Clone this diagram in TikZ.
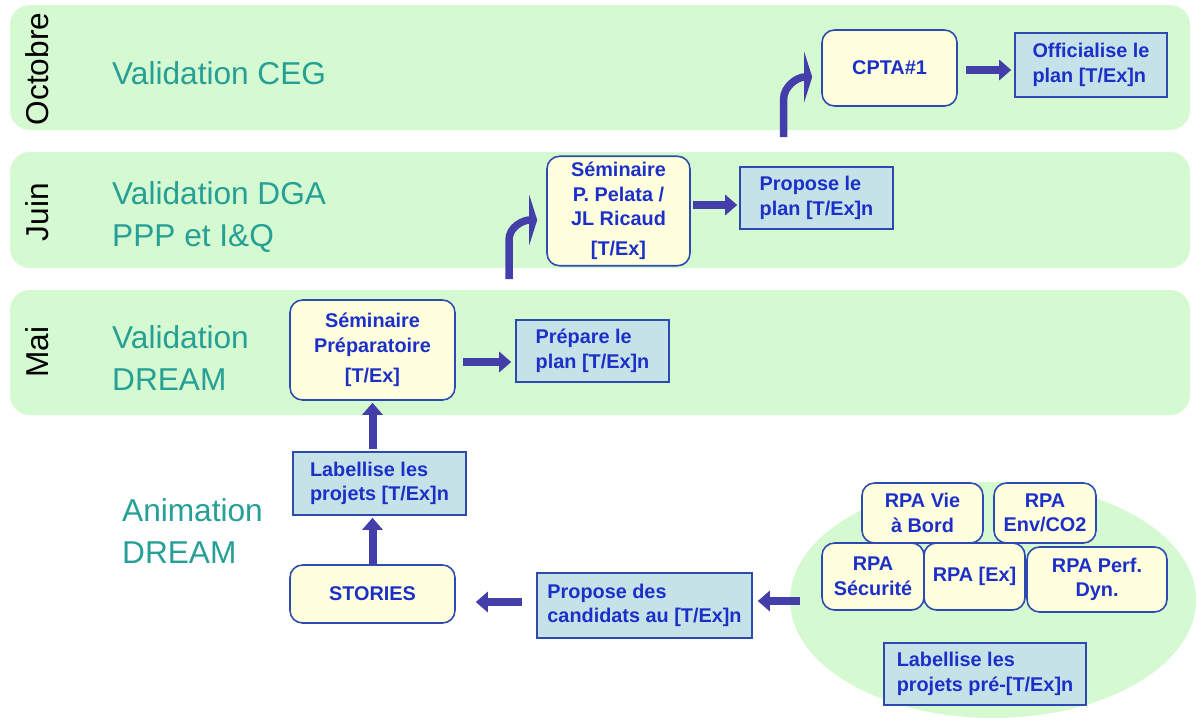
\documentclass[tikz,border=0pt]{standalone}
\usepackage{fontspec}
\setmainfont{Liberation Sans}
\usetikzlibrary{arrows.meta,shapes.geometric}

\definecolor{bandgreen}{RGB}{213,249,208}
\definecolor{laneteal}{RGB}{38,160,150}
\definecolor{boxtext}{RGB}{28,48,200}
\definecolor{boxline}{RGB}{45,75,175}
\definecolor{stepfill}{RGB}{255,255,222}
\definecolor{notefill}{RGB}{196,226,232}
\definecolor{arrowblue}{RGB}{68,62,170}

\tikzset{
  band/.style={fill=bandgreen,rounded corners=0.4cm},
  month/.style={rotate=90,font=\fontsize{18}{22}\selectfont},
  lane/.style={anchor=west,align=left,text=laneteal,font=\fontsize{18}{23.5}\selectfont},
  stepbox/.style={draw=boxline,line width=0.9pt,fill=stepfill,rounded corners=0.25cm,
    align=center,text=boxtext,font=\fontsize{11.3}{14}\selectfont\bfseries},
  notebox/.style={draw=boxline,line width=0.9pt,fill=notefill,
    align=left,text=boxtext,font=\fontsize{11.3}{14}\selectfont\bfseries},
  flow/.style={draw=arrowblue,line width=0.16cm,-{Triangle[length=0.24cm,width=0.4cm]}},
  riser/.style={draw=arrowblue,line width=0.15cm,-{Triangle[length=0.16cm,width=1cm]}},
}

\begin{document}
\begin{tikzpicture}[x=0.02cm,y=-0.02cm]
\useasboundingbox (0,0) rectangle (1197,724);
\fill[white] (0,0) rectangle (1197,724);

% the three month bands
\fill[band] (10,5) rectangle (1190,130);
\fill[band] (10,152) rectangle (1190,268);
\fill[band] (10,290) rectangle (1190,415);
\node[ellipse,fill=bandgreen,minimum width=8.12cm,minimum height=4.72cm] (rpaZone) at (993,600) {};

\node[month] (octobre) at (37,69) {Octobre};
\node[month] (juin) at (37,212) {Juin};
\node[month] (mai) at (37,352) {Mai};

\node[lane] (laneCeg) at (106,73) {Validation CEG};
\node[lane] (laneDga) at (106,217) {Validation DGA\\PPP et I\&Q};
\node[lane] (laneDream) at (106,358) {Validation\\DREAM};
\node[lane] (laneAnim) at (116,531) {Animation\\DREAM};

% steps
\node[stepbox,minimum width=2.7cm,minimum height=1.52cm] (cpta) at (889.5,68) {CPTA\#1};
\node[notebox,minimum width=3.04cm,minimum height=1.28cm] (officialise) at (1091,65) {Officialise le\\plan [T/Ex]n};
\node[stepbox,minimum width=2.86cm,minimum height=2.16cm] (semPP) at (618.5,211) {Séminaire\\P. Pelata /\\JL Ricaud\\[3pt]{[T/Ex]}};
\node[notebox,minimum width=3.06cm,minimum height=1.24cm] (propose) at (816.5,198) {Propose le\\plan [T/Ex]n};
\node[stepbox,minimum width=3.3cm,minimum height=2cm] (semPrep) at (372.5,350) {Séminaire\\Préparatoire\\[3.5pt]{[T/Ex]}};
\node[notebox,minimum width=3.06cm,minimum height=1.24cm] (prepare) at (592.5,351) {Prépare le\\plan [T/Ex]n};
\node[notebox,minimum width=3.46cm,minimum height=1.26cm] (labProj) at (379.5,483.5) {Labellise les\\projets [T/Ex]n};
\node[stepbox,minimum width=3.3cm,minimum height=1.16cm] (stories) at (372.5,594) {STORIES};
\node[notebox,minimum width=4.3cm,minimum height=1.3cm] (propCand) at (644.5,605.5) {Propose des\\candidats au [T/Ex]n};

% RPA cluster
\node[stepbox,minimum width=2.42cm,minimum height=1.2cm] (rpaVie) at (922.5,513) {RPA Vie\\à Bord};
\node[stepbox,minimum width=2.04cm,minimum height=1.2cm] (rpaEnv) at (1045,513) {RPA\\Env/CO2};
\node[stepbox,minimum width=2.04cm,minimum height=1.34cm] (rpaSec) at (873,576.5) {RPA\\Sécurité};
\node[stepbox,minimum width=2.02cm,minimum height=1.34cm] (rpaEx) at (974.5,576.5) {RPA [Ex]};
\node[stepbox,minimum width=2.8cm,minimum height=1.3cm] (rpaPerf) at (1097,579.5) {RPA Perf.\\Dyn.};
\node[notebox,minimum width=4.04cm,minimum height=1.24cm] (labPre) at (985,674) {Labellise les\\projets pré-[T/Ex]n};

% arrows
\draw[flow,shorten >=0.04cm] (stories.north) -- (stories.north |- labProj.south);
\draw[flow,shorten <=0.04cm,shorten >=0.04cm] (semPrep.south |- labProj.north) -- (semPrep.south);
\draw[flow,shorten <=0.14cm,shorten >=0.08cm] ([yshift=-0.24cm]semPrep.east) -- ([yshift=-0.24cm]semPrep.east -| prepare.west);
\draw[flow,shorten <=0.04cm,shorten >=0.04cm] ([yshift=0.12cm]semPP.east) -- ([yshift=0.12cm]semPP.east -| propose.west);
\draw[flow,shorten <=0.16cm,shorten >=0.06cm] ([yshift=-0.04cm]cpta.east) -- ([yshift=-0.04cm]cpta.east -| officialise.west);
\draw[flow,shorten <=0.28cm,shorten >=0.4cm] ([yshift=0.07cm]propCand.west) -- ([yshift=0.07cm]propCand.west -| stories.east);
\draw[flow,shorten >=0.1cm] ([xshift=0.2cm,yshift=-0.02cm]rpaZone.west) -- ([yshift=-0.02cm]rpaZone.west -| propCand.east);

\coordinate (juinFoot) at (509,279);
\draw[riser] (juinFoot) -- ++(0,-39) to[out=90,in=180] ([xshift=-0.18cm,yshift=-0.18cm]semPP.west);
\coordinate (octFoot) at (783.5,137);
\draw[riser] (octFoot) -- ++(0,-37) to[out=90,in=180] ([xshift=-0.18cm,yshift=-0.18cm]cpta.west);
\end{tikzpicture}
\end{document}
